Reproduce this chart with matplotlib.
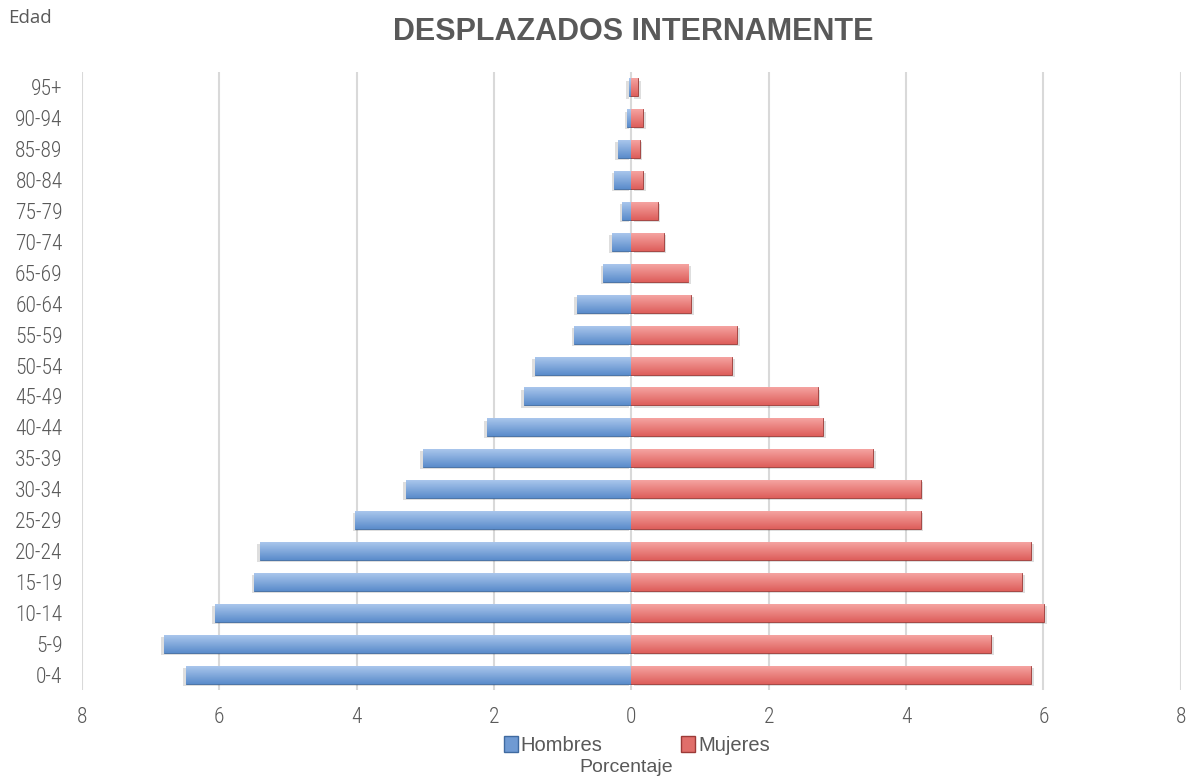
import numpy as np
import matplotlib.pyplot as plt
from matplotlib.ticker import FuncFormatter
from matplotlib.patches import Patch
from matplotlib.colors import LinearSegmentedColormap

grupos = ["0-4", "5-9", "10-14", "15-19", "20-24", "25-29", "30-34", "35-39",
          "40-44", "45-49", "50-54", "55-59", "60-64", "65-69", "70-74",
          "75-79", "80-84", "85-89", "90-94", "95+"]
hombres = [6.49, 6.81, 6.07, 5.49, 5.41, 4.02, 3.28, 3.04, 2.11, 1.57,
           1.41, 0.83, 0.79, 0.41, 0.28, 0.13, 0.25, 0.20, 0.06, 0.04]
mujeres = [5.82, 5.24, 6.01, 5.69, 5.82, 4.21, 4.21, 3.52, 2.79, 2.71,
           1.47, 1.54, 0.87, 0.83, 0.47, 0.38, 0.17, 0.12, 0.17, 0.10]

angosta = ['Roboto Condensed', 'Archivo Narrow', 'PT Sans Narrow',
           'Liberation Sans Narrow', 'Roboto', 'DejaVu Sans']
plt.rcParams['font.family'] = angosta
plt.rcParams['font.weight'] = 'light'
gris = "#595959"

fig = plt.figure(figsize=(11.97, 7.82), dpi=100)
ax = fig.add_axes([0.0685, 0.1176, 0.918, 0.7904])

y = np.arange(len(grupos))
h = 0.58

def barras(vals, c_top, c_bot, borde):
    bars = ax.barh(y, vals, height=h, color=c_bot, edgecolor=borde,
                   linewidth=0.6, zorder=3)
    grad = np.linspace(0, 1, 50).reshape(-1, 1)
    cmap = LinearSegmentedColormap.from_list("g", [c_top, c_bot])
    for b in bars:
        x0, y0 = b.get_x(), b.get_y()
        w, hh = b.get_width(), b.get_height()
        # sombra
        ax.add_patch(plt.Rectangle((x0 + 0.04 * np.sign(w), y0 - 0.07), w, hh,
                                   color="#000000", alpha=0.13, lw=0, zorder=2))
        im = ax.imshow(grad, extent=(x0, x0 + w, y0, y0 + hh), cmap=cmap,
                       aspect="auto", origin="upper", zorder=3.5)
        im.set_clip_path(b)
    return bars

barras(-np.array(hombres), "#a9c6ec", "#5b8ccb", "#3f6aa0")
barras(np.array(mujeres), "#f5a3a1", "#de5f5b", "#9c3a37")

ax.set_xlim(-8, 8)
ax.set_ylim(-0.5, len(grupos) - 0.5)
ax.set_xticks(np.arange(-8, 9, 2))
ax.xaxis.set_major_formatter(FuncFormatter(lambda v, p: f"{abs(v):.0f}"))
ax.set_yticks(y)
ax.set_yticklabels(grupos)
ax.grid(axis="x", color="#d9d9d9", linewidth=1.5, zorder=0)
ax.set_axisbelow(True)
for s in ax.spines.values():
    s.set_visible(False)
ax.tick_params(length=0, labelsize=15.5, colors=gris)
ax.tick_params(axis="x", pad=12)
ax.tick_params(axis="y", pad=14)

normal = ["Liberation Sans", "DejaVu Sans"]
fig.text(0.529, 0.959, "DESPLAZADOS INTERNAMENTE", ha="center", va="center",
         fontsize=22, fontweight="bold", color=gris, family=normal)
fig.text(0.007, 0.977, "Edad", ha="left", va="center", fontsize=13.5,
         fontweight="normal", color=gris, family=["Open Sans", "DejaVu Sans"])
fig.text(0.523, 0.018, "Porcentaje", ha="center", va="center",
         fontsize=14, fontweight="normal", color=gris, family=normal)

handles = [Patch(facecolor="#6f9ad3", edgecolor="#3f6aa0", label="Hombres"),
           Patch(facecolor="#e06e6a", edgecolor="#9c3a37", label="Mujeres")]
leg = fig.legend(handles=handles, loc="center", ncol=2,
                 bbox_to_anchor=(0.532, 0.047), frameon=False,
                 prop={"family": normal, "size": 14.5, "weight": "normal"},
                 handlelength=0.7, handleheight=0.9, handletextpad=0.15,
                 columnspacing=3.9)
for t in leg.get_texts():
    t.set_color(gris)

fig.savefig("out.png", dpi=100)
